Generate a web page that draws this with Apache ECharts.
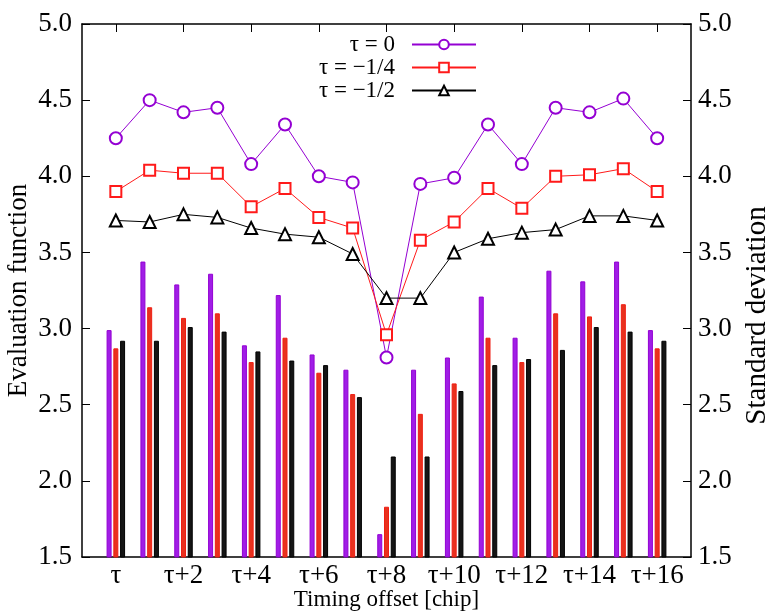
<!DOCTYPE html>
<html>
<head>
<meta charset="utf-8">
<script src="https://cdn.jsdelivr.net/npm/echarts@6/dist/echarts.min.js"></script>
<style>html,body{margin:0;padding:0;background:#fff}#c{width:769px;height:613px}</style>
</head>
<body>
<div id="c"></div>
<script>
var categories = ['τ','τ+1','τ+2','τ+3','τ+4','τ+5','τ+6','τ+7','τ+8','τ+9','τ+10','τ+11','τ+12','τ+13','τ+14','τ+15','τ+16'];
var tickPositions = [0,2,4,6,8,10,12,14,16];
var tickLabels = ['τ','τ+2','τ+4','τ+6','τ+8','τ+10','τ+12','τ+14','τ+16'];
var seriesNames = ['τ = 0','τ = −1/4','τ = −1/2'];
// Evaluation function (lines, left axis)
var evalTau0   = [4.25,4.50,4.42,4.45,4.08,4.34,4.00,3.96,2.81,3.95,3.99,4.34,4.08,4.45,4.42,4.51,4.25];
var evalTauQ   = [3.90,4.04,4.02,4.02,3.80,3.92,3.73,3.66,2.96,3.58,3.70,3.92,3.79,4.00,4.01,4.05,3.90];
var evalTauH   = [3.71,3.70,3.75,3.73,3.66,3.62,3.60,3.49,3.20,3.20,3.50,3.59,3.63,3.65,3.74,3.74,3.71];
// Standard deviation (bars, right axis)
var stdTau0    = [2.99,3.44,3.29,3.36,2.89,3.22,2.83,2.73,1.65,2.73,2.81,3.21,2.94,3.38,3.31,3.44,2.99];
var stdTauQ    = [2.87,3.14,3.07,3.10,2.78,2.94,2.71,2.57,1.83,2.44,2.64,2.94,2.78,3.10,3.08,3.16,2.87];
var stdTauH    = [2.92,2.92,3.01,2.98,2.85,2.79,2.76,2.55,2.16,2.16,2.59,2.76,2.80,2.86,3.01,2.98,2.92];

function pairs(v){ return categories.map(function(c,i){ return [i, v[i]]; }); }

var FONT = '"Liberation Serif", serif';
var chart = echarts.init(document.getElementById('c'), null, {renderer:'canvas'});
var axLine = {show:true, onZero:false, lineStyle:{color:'#000', width:1.5}};
var yCommon = {
  type:'value', min:1.5, max:5.0, interval:0.5,
  axisLine: axLine,
  axisTick:{show:true, inside:true, length:8, lineStyle:{color:'#000', width:1}},
  splitLine:{show:false},
  nameLocation:'middle', nameRotate:90, nameMoveOverlap:false
};
var purple = '#9400d3', red = '#ff1a1a', black = '#000000';
chart.setOption({
  animation:false,
  backgroundColor:'#fff',
  textStyle:{fontFamily:FONT},
  grid:{left:82, right:78, top:24, bottom:56, containLabel:false, outerBoundsMode:'none'},
  legend:{
    orient:'vertical', right:287, top:28, align:'right',
    itemWidth:64, itemHeight:12, itemGap:0,
    textStyle:{fontFamily:FONT, fontSize:23, color:'#000', padding:[0,12,0,0]},
    data:seriesNames.map(function(n){ return {name:n}; })
  },
  xAxis:[{
    type:'value', min:-1, max:17,
    axisLine: axLine,
    axisTick:{show:true, inside:true, length:8, customValues:tickPositions, lineStyle:{color:'#000'}},
    axisLabel:{show:true, customValues:tickPositions, margin:5,
      formatter:function(v){ var k = tickPositions.indexOf(v); return k>=0 ? tickLabels[k] : ''; },
      fontFamily:FONT, fontSize:27, color:'#000'},
    splitLine:{show:false},
    name:'Timing offset [chip]', nameLocation:'middle', nameGap:31, nameMoveOverlap:false,
    nameTextStyle:{fontFamily:FONT, fontSize:23, color:'#000'}
  },{
    type:'value', min:-1, max:17, position:'top',
    axisLine: axLine,
    axisTick:{show:true, inside:true, length:8, customValues:tickPositions, lineStyle:{color:'#000'}},
    axisLabel:{show:false}, splitLine:{show:false}
  }],
  yAxis:[
    Object.assign({}, yCommon, {position:'left', name:'Evaluation function', nameGap:50,
      nameTextStyle:{fontFamily:FONT, fontSize:27, color:'#000'},
      axisLabel:{margin:10, fontFamily:FONT, fontSize:27, color:'#000', formatter:function(v){return v.toFixed(1);}}}),
    Object.assign({}, yCommon, {position:'right', name:'Standard deviation', nameGap:52,
      nameTextStyle:{fontFamily:FONT, fontSize:29, color:'#000', padding:[0,50,0,0]},
      axisLabel:{margin:7, fontFamily:FONT, fontSize:27, color:'#000', formatter:function(v){return v.toFixed(1);}}})
  ],
  series:[
    {type:'bar', name:'bar0', xAxisIndex:0, yAxisIndex:1, data:pairs(stdTau0), barWidth:5, barGap:'35%',
      itemStyle:{color:'#a01ee6', borderColor:purple, borderWidth:1}, z:2},
    {type:'bar', name:'bar1', xAxisIndex:0, yAxisIndex:1, data:pairs(stdTauQ), barWidth:5, barGap:'35%',
      itemStyle:{color:'#e8321e', borderColor:'#f01e14', borderWidth:1}, z:2},
    {type:'bar', name:'bar2', xAxisIndex:0, yAxisIndex:1, data:pairs(stdTauH), barWidth:5, barGap:'35%',
      itemStyle:{color:'#151515', borderColor:'#000', borderWidth:1}, z:2},
    {type:'line', name:seriesNames[0], xAxisIndex:0, yAxisIndex:0, data:pairs(evalTau0),
      symbol:'emptyCircle', symbolSize:12, color:purple, lineStyle:{width:1, color:purple},
      itemStyle:{color:purple, borderColor:purple, borderWidth:1}, z:5},
    {type:'line', name:seriesNames[1], xAxisIndex:0, yAxisIndex:0, data:pairs(evalTauQ),
      symbol:'emptyRect', symbolSize:11, color:red, lineStyle:{width:1, color:red},
      itemStyle:{color:red, borderColor:red, borderWidth:1}, z:5},
    {type:'line', name:seriesNames[2], xAxisIndex:0, yAxisIndex:0, data:pairs(evalTauH),
      symbol:'emptyTriangle', symbolSize:12, color:black, lineStyle:{width:1, color:black},
      itemStyle:{color:black, borderColor:black, borderWidth:1}, z:5}
  ]
});
</script>
</body>
</html>
